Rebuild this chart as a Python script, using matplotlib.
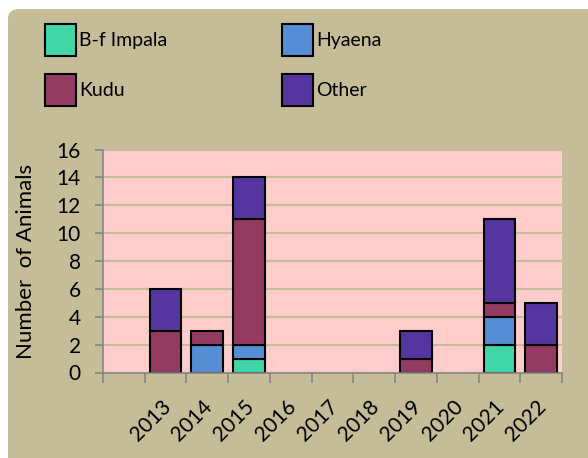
import numpy as np
import matplotlib

matplotlib.use("Agg")
import matplotlib.pyplot as plt
from matplotlib.patches import FancyBboxPatch, Patch

# first category is an empty slot, as in the original spreadsheet chart
years = ["", "2013", "2014", "2015", "2016", "2017", "2018", "2019", "2020", "2021", "2022"]
impala = [0, 0, 0, 1, 0, 0, 0, 0, 0, 2, 0]
hyaena = [0, 0, 2, 1, 0, 0, 0, 0, 0, 2, 0]
kudu = [0, 3, 1, 9, 0, 0, 0, 1, 0, 1, 2]
other = [0, 3, 0, 3, 0, 0, 0, 2, 0, 6, 3]

SERIES = [
    ("B-f Impala", impala, "#41D6A8"),
    ("Hyaena", hyaena, "#558ED5"),
    ("Kudu", kudu, "#953B62"),
    ("Other", other, "#5535A0"),
]
TAN = "#C4BD97"
PINK = "#FFCCCC"
GREY = "#868686"

plt.rcParams["font.family"] = ["Lato", "DejaVu Sans"]

W, H = 588, 458
fig = plt.figure(figsize=(W / 100, H / 100), dpi=100)
fig.patch.set_facecolor("white")
# tan chart area with rounded top-left corner, running off the right/bottom edges
bg = FancyBboxPatch((8 / W, -1.0), 2.0, 1.0 + (H - 9) / H, boxstyle="round,pad=0,rounding_size=0.02",
                    transform=fig.transFigure, facecolor=TAN, edgecolor="none", zorder=0)
fig.add_artist(bg)

ax = fig.add_axes([103 / W, (H - 372.5) / H, (562 - 103) / W, (372.5 - 149.5) / H])
ax.set_facecolor(PINK)

x = np.arange(len(years))
bottom = np.zeros(len(years))
for name, vals, color in SERIES:
    vals = np.array(vals, dtype=float)
    keep = vals > 0
    ax.bar(x[keep], vals[keep], 0.76, bottom=bottom[keep], color=color,
           edgecolor="black", linewidth=1.5, zorder=3)
    bottom += vals

ax.set_xlim(-0.5, len(years) - 0.5)
ax.set_ylim(0, 16)
ax.set_yticks(range(0, 17, 2))
# rotated labels sit a touch left of the category centre in the original
ax.set_xticks(x - 0.12)
ax.set_xticklabels(years, rotation=45, ha="right", rotation_mode="anchor", fontsize=15)
ax.set_xticks(np.arange(-0.5, len(years)), minor=True)
ax.tick_params(axis="x", which="major", length=0, pad=17)
ax.tick_params(axis="x", which="minor", length=7, color=GREY, width=1.2)
ax.tick_params(axis="y", length=6, color=GREY, width=1.2, labelsize=15, pad=10)
ax.grid(axis="y", color=TAN, linewidth=1.5, zorder=1)
ax.set_axisbelow(True)
for s in ["top", "right"]:
    ax.spines[s].set_visible(False)
for s in ["left", "bottom"]:
    ax.spines[s].set_color(GREY)
    ax.spines[s].set_linewidth(1.2)
    ax.spines[s].set_zorder(4)
ax.set_ylabel("Number  of Animals", fontsize=16)
ax.yaxis.set_label_coords(-0.146, 0.5)

# legend fills column-first, so order handles to read row-wise like the original
lut = {n: c for n, _, c in SERIES}
order = ["B-f Impala", "Kudu", "Hyaena", "Other"]
handles = [Patch(facecolor=lut[n], edgecolor="black", linewidth=1.5, label=n) for n in order]
fig.legend(handles=handles, loc="upper left", bbox_to_anchor=(37 / W, 1 - 16 / H), ncol=2,
           frameon=False, fontsize=14, handlelength=1.6, handleheight=2.15,
           handletextpad=0.15, columnspacing=5.9, labelspacing=0.95, borderaxespad=0)

fig.savefig("out.png", dpi=100, facecolor=fig.get_facecolor())
